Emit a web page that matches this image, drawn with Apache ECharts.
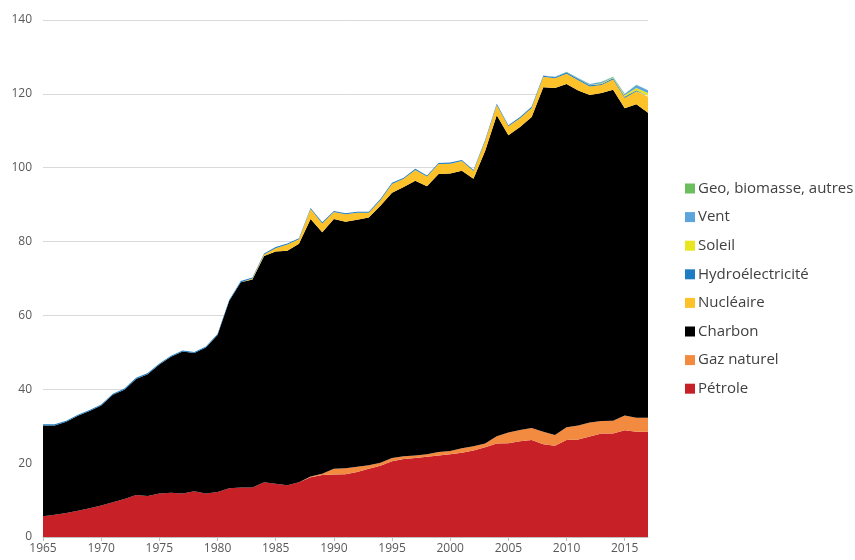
<!DOCTYPE html>
<html><head><meta charset="utf-8">
<script src="https://cdn.jsdelivr.net/npm/echarts@6/dist/echarts.min.js"></script>
<style>html,body{margin:0;padding:0;background:#fff}#c{width:855px;height:560px}</style>
</head><body><div id="c"></div>
<script>
var years = [];
for (var y = 1965; y <= 2017; y++) years.push(String(y));

var petrole = [5.6,6.0,6.5,7.1,7.8,8.5,9.4,10.3,11.4,11.1,11.8,12.0,11.8,12.4,11.8,12.2,13.2,13.4,13.4,14.8,14.4,14.0,14.8,16.2,16.8,16.9,17.0,17.6,18.5,19.3,20.5,21.1,21.4,21.7,22.1,22.4,22.8,23.4,24.3,25.3,25.4,25.9,26.3,25.1,24.7,26.3,26.4,27.2,28.0,28.0,28.9,28.5,28.5];
var gaz = [0,0,0,0,0,0,0,0,0,0,0,0,0,0,0,0,0,0,0,0,0,0,0,0.2,0.3,1.6,1.6,1.4,0.9,0.8,0.9,0.8,0.7,0.7,0.9,0.9,1.2,1.2,1.0,2.0,2.9,3.1,3.2,3.4,2.9,3.4,3.8,3.8,3.4,3.5,4.0,3.8,3.8];
var charbon = [24.6,24.2,24.7,25.7,26.3,27.1,29.1,29.6,31.4,33.0,34.9,36.8,38.4,37.4,39.5,42.5,50.7,55.6,56.3,61.3,62.9,63.5,64.6,69.7,65.4,67.6,66.8,66.9,67.1,69.6,71.8,72.9,74.4,72.6,75.3,75.1,75.2,72.4,79.2,86.9,80.5,82.0,84.2,93.3,94.0,93.0,90.7,88.7,88.8,89.6,83.2,84.9,82.6];
var nucleaire = [0,0,0,0,0,0,0,0,0,0,0,0,0,0,0,0,0,0,0.3,0.4,0.9,1.7,1.2,2.7,2.4,1.9,2.0,1.9,1.3,1.5,2.4,2.2,2.9,2.6,2.7,2.7,2.6,2.1,2.7,2.8,2.4,2.4,2.5,2.8,2.6,2.75,2.8,2.3,2.2,2.8,2.8,3.5,4.3];
var hydro = [0.3,0.3,0.3,0.3,0.3,0.3,0.3,0.3,0.3,0.3,0.3,0.3,0.3,0.3,0.3,0.3,0.3,0.3,0.3,0.3,0.3,0.3,0.3,0.3,0.3,0.3,0.3,0.3,0.3,0.3,0.3,0.3,0.3,0.3,0.3,0.3,0.3,0.3,0.3,0.3,0.3,0.3,0.3,0.3,0.3,0.3,0.3,0.3,0.3,0.3,0.3,0.3,0.3];
var soleil = [0,0,0,0,0,0,0,0,0,0,0,0,0,0,0,0,0,0,0,0,0,0,0,0,0,0,0,0,0,0,0,0,0,0,0,0,0,0,0,0,0,0,0,0,0,0,0.05,0.1,0.2,0.15,0.4,0.6,0.7];
var vent = [0,0,0,0,0,0,0,0,0,0,0,0,0,0,0,0,0,0,0,0,0,0,0,0,0,0,0,0,0,0,0,0,0,0,0,0,0,0,0,0,0,0,0.05,0.1,0.1,0.2,0.2,0.25,0.3,0.15,0.35,0.8,0.8];
var geo = [0,0,0,0,0,0,0,0,0,0,0,0,0,0,0,0,0,0,0,0,0,0,0,0,0,0,0,0,0,0,0,0,0,0,0,0,0,0,0,0,0,0,0,0,0,0.05,0.05,0.05,0.1,0.1,0.05,0.1,0.1];

var names = ['Pétrole','Gaz naturel','Charbon','Nucléaire','Hydroélectricité','Soleil','Vent','Geo, biomasse, autres'];
var colors = ['#C82027','#F28A40','#000000','#FDC22A','#1E7CC2','#E9E51F','#5CA4DC','#6CBF5C'];
var datas = [petrole,gaz,charbon,nucleaire,hydro,soleil,vent,geo];
var yTicks = [0,20,40,60,80,100,120,140];

var series = names.map(function(n,i){
  return {name:n,type:'line',stack:'total',data:datas[i],showSymbol:false,symbol:'none',
    lineStyle:{width:0},areaStyle:{color:colors[i],opacity:1},itemStyle:{color:colors[i]},
    emphasis:{disabled:true},z:2};
});

var chart = echarts.init(document.getElementById('c'),null,{renderer:'canvas'});
chart.setOption({
  animation:false,
  backgroundColor:'#fff',
  grid:{left:43,right:207,top:20,bottom:23,containLabel:false},
  legend:{orient:'vertical',left:680,top:176,itemWidth:10,itemHeight:10,itemGap:13.6,icon:'rect',
    data:names.slice().reverse(),
    textStyle:{fontFamily:'Open Sans',fontSize:15,color:'#404040',padding:[0,0,0,-2]}},
  xAxis:{type:'category',data:years,boundaryGap:false,
    axisLine:{lineStyle:{color:'#BFBFBF'}},
    axisTick:{show:true,interval:4,lineStyle:{color:'#BFBFBF'},length:4},
    axisLabel:{interval:4,color:'#595959',fontFamily:'Open Sans',fontSize:12,margin:6},
    splitLine:{show:false}},
  yAxis:{type:'value',min:0,max:140,interval:20,
    axisLine:{show:false},axisTick:{show:false},
    axisLabel:{color:'#595959',fontFamily:'Open Sans',fontSize:12,margin:11},
    splitLine:{lineStyle:{color:'#D9D9D9',width:1}}},
  series:series
});
</script></body></html>
